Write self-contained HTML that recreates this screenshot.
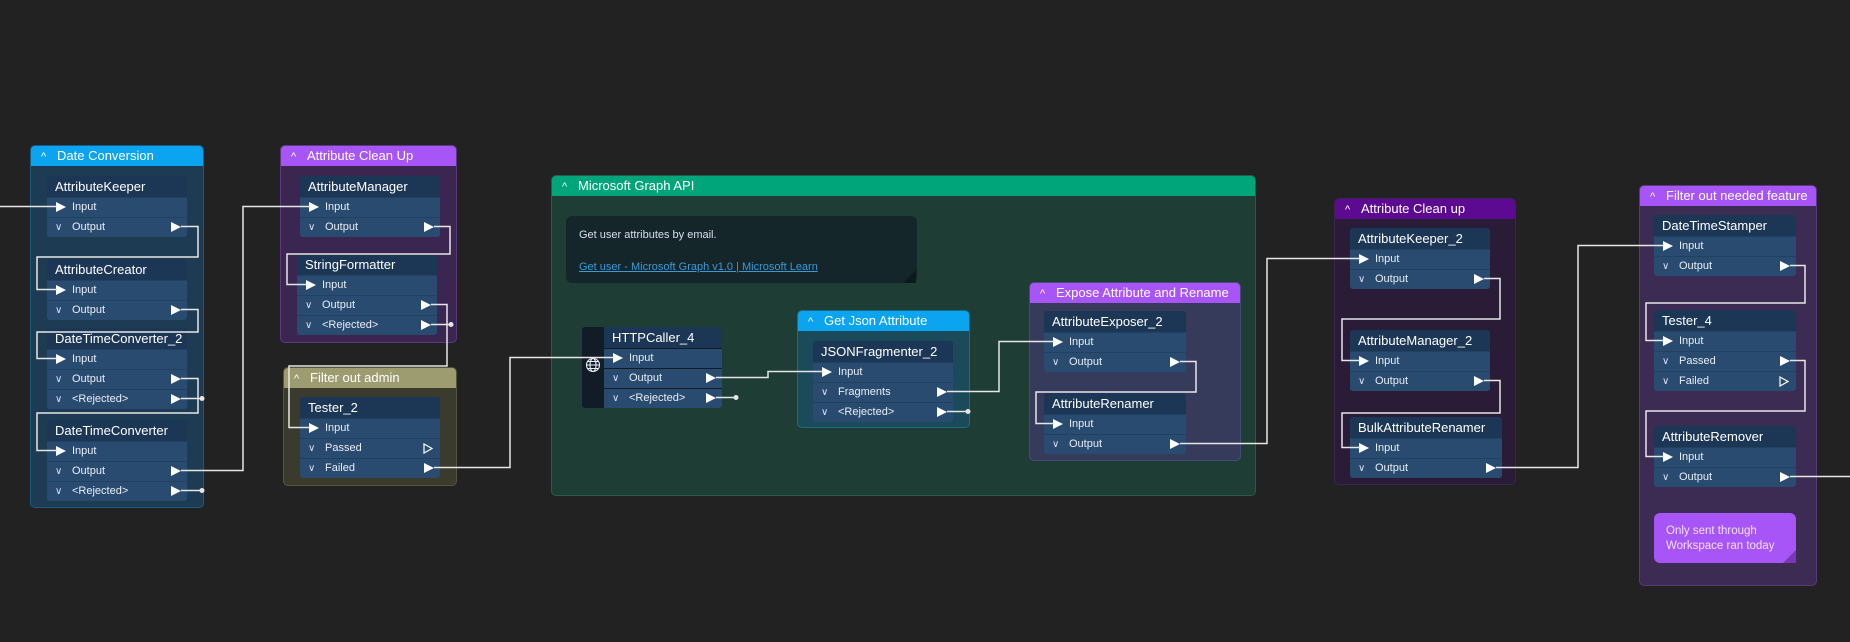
<!DOCTYPE html>
<html><head><meta charset="utf-8">
<style>
*{box-sizing:border-box;margin:0;padding:0}
body{width:1850px;height:642px;background:#222222;position:relative;overflow:hidden;font-family:"Liberation Sans",sans-serif;color:#e8eef5}
.g{position:absolute;border-radius:5px;overflow:hidden}
.gh{height:20px;font-size:13px;line-height:20px;padding-left:10px;color:#fff;white-space:nowrap}
.gh b{font-weight:normal;display:inline-block;width:16px;font-size:11px}
.n{position:absolute;border-radius:3px;overflow:hidden;background:#22405f}
.t{height:21px;background:#1c3656;font-size:13px;line-height:21px;padding-left:8px;color:#fff;white-space:nowrap}
.r{height:19px;margin-top:1px;background:#2a4b70;font-size:11px;line-height:19px;padding-left:25px;position:relative;white-space:nowrap}
.r.i::before{content:"";position:absolute;left:9px;top:4px;border-left:10px solid #fff;border-top:5.5px solid transparent;border-bottom:5.5px solid transparent}
.r .c{position:absolute;left:8px;top:0;font-size:10px;color:#dde}
.r .o{position:absolute;right:6px;top:4px;width:0;height:0;border-left:10px solid #fff;border-top:5.5px solid transparent;border-bottom:5.5px solid transparent}
.r .u{position:absolute;right:7px;top:4px;width:10px;height:11px}
.cm{position:absolute;font-size:11px;line-height:15px}
</style></head><body>

<!-- groups -->
<div class="g" style="left:30px;top:145px;width:174px;height:363px;background:#1d3b52;border:1px solid #1f5a80"><div class="gh" style="background:#0aa4f0"><b>^</b>Date Conversion</div></div>
<div class="g" style="left:280px;top:145px;width:177px;height:198px;background:#3a2650;border:1px solid #5a3a7a"><div class="gh" style="background:#a855f7"><b>^</b>Attribute Clean Up</div></div>
<div class="g" style="left:283px;top:367px;width:174px;height:119px;background:#3b3b2d;border:1px solid #55553d"><div class="gh" style="background:#9c9c70"><b>^</b>Filter out admin</div></div>
<div class="g" style="left:551px;top:175px;width:705px;height:321px;background:#1e3d35;border:1px solid #2a5a48"><div class="gh" style="background:#00a57a"><b>^</b>Microsoft Graph API</div></div>
<div style="position:absolute;left:566px;top:216px;width:351px;height:67px;background:#14262a;border-radius:6px"></div>
<div style="position:absolute;left:903px;top:270px;width:0;height:0;border-left:13px solid transparent;border-bottom:13px solid #0d1a1c"></div>
<div class="cm" style="left:579px;top:228px;color:#dde">Get user attributes by email.</div>
<div class="cm" style="left:579px;top:260px;color:#3a9ad9;text-decoration:underline">Get user - Microsoft Graph v1.0 | Microsoft Learn</div>
<div class="g" style="left:797px;top:310px;width:173px;height:118px;background:#1b4a5a;border:1px solid #1f6a80"><div class="gh" style="background:#0aa4f0"><b>^</b>Get Json Attribute</div></div>
<div class="g" style="left:1029px;top:282px;width:212px;height:179px;background:#363b5c;border:1px solid #4a4a78"><div class="gh" style="background:#a855f7"><b>^</b>Expose Attribute and Rename</div></div>
<div class="g" style="left:1334px;top:198px;width:182px;height:287px;background:#2a1b37;border:1px solid #3a2450"><div class="gh" style="background:#5d0a92"><b>^</b>Attribute Clean up</div></div>
<div class="g" style="left:1639px;top:185px;width:178px;height:401px;background:#3c2b52;border:1px solid #5a3a7a"><div class="gh" style="background:#a855f7"><b>^</b>Filter out needed feature</div></div>
<div style="position:absolute;left:1654px;top:513px;width:142px;height:50px;background:#a855f7;border-radius:6px"></div>
<div style="position:absolute;left:1783px;top:550px;width:0;height:0;border-left:13px solid transparent;border-bottom:13px solid #7a38b8"></div>
<div class="cm" style="left:1666px;top:524px;color:#f0e0ff;font-size:11.5px">Only sent through<br>Workspace ran today</div>

<!-- nodes -->
<div class="n" style="left:47px;top:176px;width:140px"><div class="t">AttributeKeeper</div><div class="r i">Input</div><div class="r"><span class="c">∨</span>Output<span class="o"></span></div></div>
<div class="n" style="left:47px;top:259px;width:140px"><div class="t">AttributeCreator</div><div class="r i">Input</div><div class="r"><span class="c">∨</span>Output<span class="o"></span></div></div>
<div class="n" style="left:47px;top:328px;width:140px"><div class="t">DateTimeConverter_2</div><div class="r i">Input</div><div class="r"><span class="c">∨</span>Output<span class="o"></span></div><div class="r"><span class="c">∨</span>&lt;Rejected&gt;<span class="o"></span></div></div>
<div class="n" style="left:47px;top:420px;width:140px"><div class="t">DateTimeConverter</div><div class="r i">Input</div><div class="r"><span class="c">∨</span>Output<span class="o"></span></div><div class="r"><span class="c">∨</span>&lt;Rejected&gt;<span class="o"></span></div></div>

<div class="n" style="left:300px;top:176px;width:140px"><div class="t">AttributeManager</div><div class="r i">Input</div><div class="r"><span class="c">∨</span>Output<span class="o"></span></div></div>
<div class="n" style="left:297px;top:254px;width:140px"><div class="t">StringFormatter</div><div class="r i">Input</div><div class="r"><span class="c">∨</span>Output<span class="o"></span></div><div class="r"><span class="c">∨</span>&lt;Rejected&gt;<span class="o"></span></div></div>
<div class="n" style="left:300px;top:397px;width:140px"><div class="t">Tester_2</div><div class="r i">Input</div><div class="r"><span class="c">∨</span>Passed<svg class="u" viewBox="0 0 10 11"><path d="M1 1 L9 5.5 L1 10 Z" fill="none" stroke="#fff" stroke-width="1.2"/></svg></div><div class="r"><span class="c">∨</span>Failed<span class="o"></span></div></div>

<div class="n" style="left:582px;top:327px;width:140px;background:#121c26">
 <div style="margin-left:22px"><div class="t">HTTPCaller_4</div><div class="r i">Input</div><div class="r"><span class="c">∨</span>Output<span class="o"></span></div><div class="r"><span class="c">∨</span>&lt;Rejected&gt;<span class="o"></span></div></div>
 <svg style="position:absolute;left:3px;top:357px;margin-top:-327px" width="16" height="16" viewBox="0 0 16 16"><g fill="none" stroke="#e8eef5" stroke-width="1.1"><circle cx="8" cy="8" r="6.5"/><ellipse cx="8" cy="8" rx="3" ry="6.5"/><line x1="1.5" y1="8" x2="14.5" y2="8"/><line x1="2.5" y1="4.5" x2="13.5" y2="4.5"/><line x1="2.5" y1="11.5" x2="13.5" y2="11.5"/></g></svg>
</div>
<div class="n" style="left:813px;top:341px;width:140px"><div class="t">JSONFragmenter_2</div><div class="r i">Input</div><div class="r"><span class="c">∨</span>Fragments<span class="o"></span></div><div class="r"><span class="c">∨</span>&lt;Rejected&gt;<span class="o"></span></div></div>
<div class="n" style="left:1044px;top:311px;width:142px"><div class="t">AttributeExposer_2</div><div class="r i">Input</div><div class="r"><span class="c">∨</span>Output<span class="o"></span></div></div>
<div class="n" style="left:1044px;top:393px;width:142px"><div class="t">AttributeRenamer</div><div class="r i">Input</div><div class="r"><span class="c">∨</span>Output<span class="o"></span></div></div>

<div class="n" style="left:1350px;top:228px;width:140px"><div class="t">AttributeKeeper_2</div><div class="r i">Input</div><div class="r"><span class="c">∨</span>Output<span class="o"></span></div></div>
<div class="n" style="left:1350px;top:330px;width:140px"><div class="t">AttributeManager_2</div><div class="r i">Input</div><div class="r"><span class="c">∨</span>Output<span class="o"></span></div></div>
<div class="n" style="left:1350px;top:417px;width:152px"><div class="t">BulkAttributeRenamer</div><div class="r i">Input</div><div class="r"><span class="c">∨</span>Output<span class="o"></span></div></div>

<div class="n" style="left:1654px;top:215px;width:142px"><div class="t">DateTimeStamper</div><div class="r i">Input</div><div class="r"><span class="c">∨</span>Output<span class="o"></span></div></div>
<div class="n" style="left:1654px;top:310px;width:142px"><div class="t">Tester_4</div><div class="r i">Input</div><div class="r"><span class="c">∨</span>Passed<span class="o"></span></div><div class="r"><span class="c">∨</span>Failed<svg class="u" viewBox="0 0 10 11"><path d="M1 1 L9 5.5 L1 10 Z" fill="none" stroke="#fff" stroke-width="1.2"/></svg></div></div>
<div class="n" style="left:1654px;top:426px;width:142px"><div class="t">AttributeRemover</div><div class="r i">Input</div><div class="r"><span class="c">∨</span>Output<span class="o"></span></div></div>

<!-- connectors -->
<svg style="position:absolute;left:0;top:0" width="1850" height="642">
<g fill="none" stroke="#e6e6e6" stroke-width="1.5">
<path d="M0 206.5 H57"/>
<path d="M181 226.5 H198 V257 H37 V289.5 H57"/>
<path d="M181 309.5 H198 V332 H37 V358.5 H57"/>
<path d="M181 378.5 H198 V413 H37 V450.5 H57"/>
<path d="M181 398.5 H202"/>
<path d="M181 470.5 H243 V206.5 H310"/>
<path d="M181 490.5 H202"/>
<path d="M434 226.5 H450 V254 H287 V284.5 H307"/>
<path d="M431 304.5 H447 V366 H289 V427.5 H310"/>
<path d="M431 324.5 H451"/>
<path d="M434 467.5 H510 V357.5 H614"/>
<path d="M716 377.5 H768 V371.5 H823"/>
<path d="M716 397.5 H736"/>
<path d="M947 391.5 H999 V341.5 H1054"/>
<path d="M947 411.5 H968"/>
<path d="M1180 361.5 H1196 V392 H1036 V423.5 H1054"/>
<path d="M1180 443.5 H1267 V258.5 H1360"/>
<path d="M1484 278.5 H1500 V319 H1342 V360.5 H1360"/>
<path d="M1484 380.5 H1500 V413 H1342 V447.5 H1360"/>
<path d="M1496 467.5 H1578 V245.5 H1664"/>
<path d="M1790 265.5 H1805 V303 H1646 V340.5 H1664"/>
<path d="M1790 360.5 H1805 V411 H1646 V456.5 H1664"/>
<path d="M1790 476.5 H1850"/>
</g>
<g fill="#e6e6e6">
<circle cx="202" cy="398.5" r="2.5"/><circle cx="202" cy="490.5" r="2.5"/><circle cx="451" cy="324.5" r="2.5"/><circle cx="736" cy="397.5" r="2.5"/><circle cx="968" cy="411.5" r="2.5"/>
</g>
</svg>
</body></html>
